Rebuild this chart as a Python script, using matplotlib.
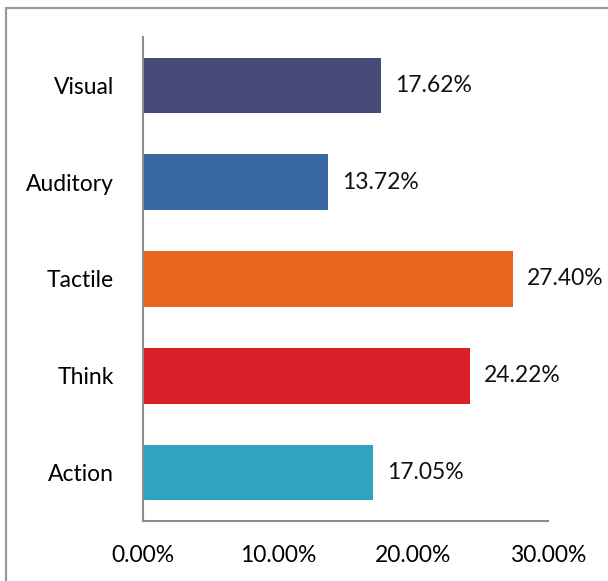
import matplotlib.pyplot as plt
from matplotlib import patches

categories = ["Visual", "Auditory", "Tactile", "Think", "Action"]
values = [17.62, 13.72, 27.40, 24.22, 17.05]
colors = ["#484a78", "#3766a0", "#e8651e", "#da1f29", "#2ea4c0"]
x_ticks = [0, 10, 20, 30]

plt.rcParams['font.family'] = ['Lato', 'DejaVu Sans']
fs = 16.5

fig = plt.figure(figsize=(6.08, 5.81), dpi=100)
ax = fig.add_axes([0.2352, 0.1033, 0.666, 0.833])

# outer chart frame, runs off the right and bottom edges
fig.patches.append(patches.Rectangle((6 / 608, -0.05), 1.1, 1 - 8 / 581 + 0.05,
                                     transform=fig.transFigure, fill=False,
                                     edgecolor="#9a9a9a", linewidth=1.6))

pos = list(range(len(categories)))[::-1]
ax.barh(pos, values, height=0.575, color=colors)

for p, v in zip(pos, values):
    ax.annotate(f"{v:.2f}%", (v, p), xytext=(10, 0), textcoords="offset points",
                va="center", ha="left", fontsize=fs, color="#111111")

ax.set_xlim(0, 30)
ax.set_ylim(-0.5, 4.5)
ax.set_yticks(pos)
ax.set_yticklabels(categories, fontsize=fs)
ax.set_xticks(x_ticks)
ax.set_xticklabels([f"{t:.2f}%" for t in x_ticks], fontsize=fs)
ax.tick_params(length=0, pad=17, axis="x")
ax.tick_params(length=0, pad=21, axis="y")

for s in ["top", "right"]:
    ax.spines[s].set_visible(False)
for s in ["left", "bottom"]:
    ax.spines[s].set_color("#8c8c8c")
    ax.spines[s].set_linewidth(1.5)

fig.savefig("out.png", dpi=100)
